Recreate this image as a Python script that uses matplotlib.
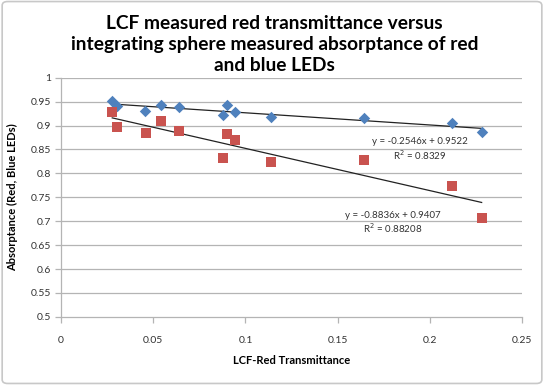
import matplotlib
matplotlib.use('Agg')
import matplotlib.pyplot as plt
from matplotlib.patches import FancyBboxPatch
import numpy as np

plt.rcParams['font.family'] = ['Lato', 'DejaVu Sans']

# LCF red transmittance (x) and measured absorptance (y)
blue_x = [0.0278, 0.0304, 0.0457, 0.0544, 0.064, 0.0877, 0.090, 0.0946, 0.114, 0.164, 0.212, 0.228]
blue_y = [0.952, 0.941, 0.930, 0.944, 0.938, 0.922, 0.944, 0.928, 0.917, 0.916, 0.906, 0.886]
red_x = [0.0278, 0.0304, 0.0459, 0.0544, 0.064, 0.0877, 0.090, 0.0946, 0.114, 0.164, 0.212, 0.228]
red_y = [0.929, 0.898, 0.885, 0.909, 0.888, 0.832, 0.883, 0.870, 0.823, 0.828, 0.773, 0.707]

# trendline coefficients as printed on the chart
blue_fit = (-0.2546, 0.9522)
red_fit = (-0.8836, 0.9407)
blue_r2 = '0.8329'
red_r2 = '0.88208'

xticks = [0, 0.05, 0.1, 0.15, 0.2, 0.25]
yticks = [0.5, 0.55, 0.6, 0.65, 0.7, 0.75, 0.8, 0.85, 0.9, 0.95, 1]

fig = plt.figure(figsize=(5.44, 3.85), dpi=100)
border = FancyBboxPatch((0.004, 0.004), 0.992, 0.992, boxstyle='round,pad=0,rounding_size=0.01',
                        transform=fig.transFigure, facecolor='white', edgecolor='#c8c8c8',
                        linewidth=1.2, zorder=-10)
fig.patches.append(border)

ax = fig.add_axes([0.112, 0.177, 0.848, 0.621])
ax.set_facecolor('none')

for v in yticks[1:]:
    ax.axhline(v, color='#b4b4b4', linewidth=0.9, zorder=0)

ax.scatter(blue_x, blue_y, marker='D', s=34, color='#4F81BD', zorder=3, linewidths=0)
ax.scatter(red_x, red_y, marker='s', s=44, color='#C9534F', zorder=3, linewidths=0)

xs = np.array([min(blue_x), max(blue_x)])
ax.plot(xs, blue_fit[0] * xs + blue_fit[1], color='#222222', linewidth=0.9, zorder=2)
xs = np.array([min(red_x), max(red_x)])
ax.plot(xs, red_fit[0] * xs + red_fit[1], color='#222222', linewidth=0.9, zorder=2)

ax.text(0.1946, 0.866, 'y = %.4fx + %.4f' % blue_fit, ha='center', va='center', fontsize=7, color='#333333')
ax.text(0.1946, 0.838, 'R$^2$ = ' + blue_r2, ha='center', va='center', fontsize=7, color='#333333')
ax.text(0.1796, 0.712, 'y = %.4fx + %.4f' % red_fit, ha='center', va='center', fontsize=7, color='#333333')
ax.text(0.1796, 0.686, 'R$^2$ = ' + red_r2, ha='center', va='center', fontsize=7, color='#333333')

ax.set_xlim(0, 0.25)
ax.set_ylim(0.5, 1)
ax.set_xticks(xticks)
ax.set_xticklabels(['0', '0.05', '0.1', '0.15', '0.2', '0.25'])
ax.set_yticks(yticks)
ax.set_yticklabels(['0.5', '0.55', '0.6', '0.65', '0.7', '0.75', '0.8', '0.85', '0.9', '0.95', '1'])
ax.tick_params(axis='both', labelsize=7.5, colors='#b4b4b4', labelcolor='#333333', length=4, width=0.9)
ax.tick_params(axis='x', pad=10)
ax.tick_params(axis='y', pad=3)

for side in ['top', 'right']:
    ax.spines[side].set_visible(False)
for side in ['left', 'bottom']:
    ax.spines[side].set_color('#b4b4b4')
    ax.spines[side].set_linewidth(0.9)

ax.set_xlabel('LCF-Red Transmittance', fontsize=8, fontweight='bold', labelpad=7)
ax.set_ylabel('Absorptance (Red, Blue LEDs)', fontsize=8, fontweight='bold', labelpad=9)

fig.text(0.505, 0.885, 'LCF measured red transmittance versus\nintegrating sphere measured absorptance of red\nand blue LEDs',
         ha='center', va='center', fontsize=13.8, fontweight='bold', linespacing=1.3)

fig.savefig('out.png', dpi=100)
